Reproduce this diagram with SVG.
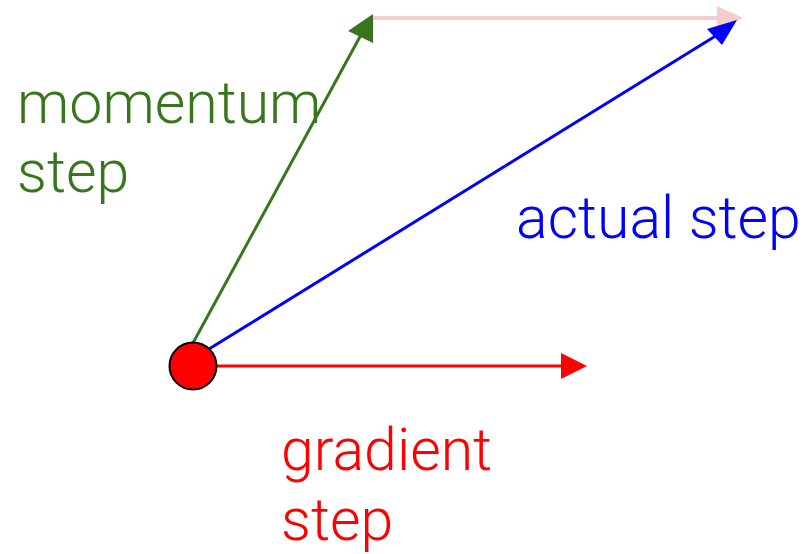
<svg xmlns="http://www.w3.org/2000/svg" width="808" height="554" viewBox="0 0 808 554">
<style>
.lbl{font-family:Roboto,"Liberation Sans",sans-serif;font-weight:300;font-size:59px}
</style>
<rect width="808" height="554" fill="#ffffff"/>
<g id="connectors">
  <g id="pink">
    <line x1="373" y1="18" x2="720" y2="18" stroke="#f4cccc" stroke-width="4"/>
    <polygon points="717,6 743,18 717,30" fill="#f4cccc"/>
  </g>
  <g id="green">
    <line x1="193" y1="343" x2="362" y2="33" stroke="#38761d" stroke-width="3"/>
    <polygon points="373,14 348,31 373,43" fill="#38761d"/>
  </g>
  <g id="blue">
    <line x1="209" y1="349" x2="722" y2="32" stroke="#0000ff" stroke-width="3"/>
    <polygon points="737,20 707,29 722,45" fill="#0000ff"/>
  </g>
  <g id="red">
    <line x1="217" y1="366" x2="563" y2="366" stroke="#ff0000" stroke-width="3"/>
    <polygon points="561,353 587,366 561,379" fill="#ff0000"/>
  </g>
</g>
<g id="point">
  <circle cx="193" cy="366" r="23.5" fill="#ff0000" stroke="#000000" stroke-width="2"/>
</g>
<g id="label-momentum">
  <text class="lbl" fill="#38761d"><tspan x="17" y="123">momentum</tspan><tspan x="17" y="192">step</tspan></text>
</g>
<g id="label-actual">
  <text class="lbl" fill="#0000ff" x="516" y="238">actual step</text>
</g>
<g id="label-gradient">
  <text class="lbl" fill="#ff0000"><tspan x="281" y="470">gradient</tspan><tspan x="281" y="540">step</tspan></text>
</g>
</svg>
